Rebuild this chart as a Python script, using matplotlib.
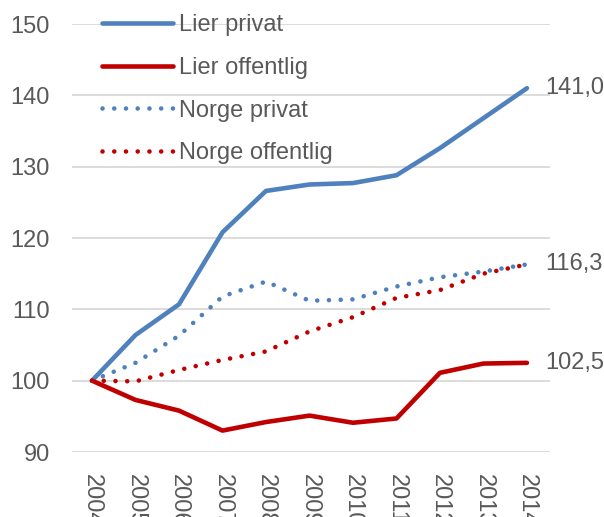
import matplotlib.pyplot as plt
from matplotlib import rcParams

rcParams['font.family'] = ['Liberation Sans', 'DejaVu Sans']

years = ['2004', '2005', '2006', '2007', '2008', '2009', '2010', '2011', '2012', '2013', '2014']
lier_privat = [100, 106.4, 110.7, 120.8, 126.6, 127.5, 127.7, 128.8, 132.6, 136.8, 141.0]
lier_offentlig = [100, 97.3, 95.8, 93.0, 94.2, 95.1, 94.1, 94.7, 101.1, 102.4, 102.5]
norge_privat = [100, 102.5, 106.3, 111.8, 113.9, 111.2, 111.4, 113.2, 114.5, 115.3, 116.3]
norge_offentlig = [100, 99.9, 101.5, 102.9, 104.1, 106.9, 108.9, 111.6, 112.7, 115.0, 116.3]
end_labels = ['141,0', '102,5', '116,3']

blue = '#4F81BD'
red = '#C00000'
grey = '#595959'
fontSize = 17

fig = plt.figure(figsize=(6.04, 5.17), dpi=100)
ax = fig.add_axes([72/604, 1 - 452/517, (550-72)/604, (452-24)/517])

x = list(range(len(years)))
dots = (0, (0.01, 2.55))
ax.plot(x, lier_privat, color=blue, lw=3.3, label='Lier privat', solid_capstyle='round')
ax.plot(x, lier_offentlig, color=red, lw=3.3, label='Lier offentlig', solid_capstyle='round')
ax.plot(x, norge_privat, color=blue, lw=3.3, ls=dots, dash_capstyle='round', label='Norge privat')
ax.plot(x, norge_offentlig, color=red, lw=3.3, ls=dots, dash_capstyle='round', label='Norge offentlig')

# verdier ved siste punkt
for series, txt in zip([lier_privat, lier_offentlig, norge_privat], end_labels):
    ax.annotate(txt, (x[-1], series[-1]), xytext=(13, 0), textcoords='offset points',
                va='center', ha='left', fontsize=fontSize, color=grey, annotation_clip=False)

ax.set_ylim(90, 150)
ax.set_yticks(range(90, 151, 10))
ax.set_xlim(-0.46, 10.53)
ax.set_xticks(x)
ax.set_xticklabels(years, rotation=-90, va='top', ha='center')
ax.grid(axis='y', color='#D9D9D9', lw=1.3)
ax.set_axisbelow(True)
for s in ax.spines.values():
    s.set_visible(False)
ax.tick_params(axis='both', length=0, labelsize=fontSize, colors=grey)
ax.tick_params(axis='y', pad=16)
ax.tick_params(axis='x', pad=16)

leg = ax.legend(loc='upper left', bbox_to_anchor=(102/604, 1 - 14/517), bbox_transform=fig.transFigure,
                frameon=False, fontsize=fontSize, handlelength=3.0, handletextpad=0.25,
                labelspacing=0.88, borderpad=0, borderaxespad=0)
for t in leg.get_texts():
    t.set_color(grey)

plt.savefig('out.png', dpi=100)
